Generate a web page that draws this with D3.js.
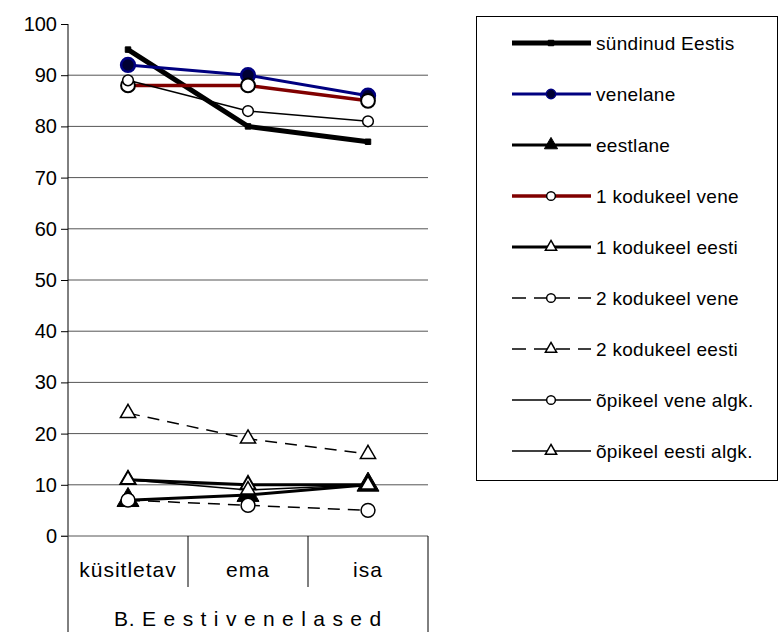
<!DOCTYPE html>
<html><head><meta charset="utf-8">
<script src="https://cdn.jsdelivr.net/npm/d3@7"></script>
<style>
html,body{margin:0;padding:0;background:#fff;}
text{font-family:"Liberation Sans",Arial,sans-serif;fill:#000;}
</style></head>
<body>
<svg id="chart" width="780" height="632"></svg>
<script>
// ---- data ----
const categories = ["küsitletav", "ema", "isa"];
const groupLabel = "B. E e s t i v e n e l a s e d";
const yTicks = [0,10,20,30,40,50,60,70,80,90,100];
const seriesNames = ["sündinud Eestis","venelane","eestlane","1 kodukeel vene","1 kodukeel eesti","2 kodukeel vene","2 kodukeel eesti","õpikeel vene algk.","õpikeel eesti algk."];
const sundinudEestis = [95, 80, 77];
const venelane = [92, 90, 86];
const eestlane = [7, 8, 10];
const kodukeel1Vene = [88, 88, 85];
const kodukeel1Eesti = [11, 10, 10];
const kodukeel2Vene = [7, 6, 5];
const kodukeel2Eesti = [24, 19, 16];
const opikeelVene = [89, 83, 81];
const opikeelEesti = [11, 9, 10];
const seriesValues = [sundinudEestis, venelane, eestlane, kodukeel1Vene, kodukeel1Eesti, kodukeel2Vene, kodukeel2Eesti, opikeelVene, opikeelEesti];

// ---- styles ----
const styles = [
  {stroke:"#000", w:5, dash:null, sym:d3.symbolSquare, size:30, lsize:30, fill:"#000", mstroke:"#000", mw:1},
  {stroke:"#000080", w:3, dash:null, sym:d3.symbolCircle, size:150, lsize:70, fill:"#000033", mstroke:"#000080", mw:2.5},
  {stroke:"#000", w:3, dash:null, sym:d3.symbolTriangle, size:210, lsize:75, fill:"#000", mstroke:"#000", mw:1},
  {stroke:"#800000", w:3.5, dash:null, sym:d3.symbolCircle, size:150, lsize:60, fill:"#fff", mstroke:"#000", mw:2},
  {stroke:"#000", w:3, dash:null, sym:d3.symbolTriangle, size:100, lsize:55, fill:"#fff", mstroke:"#000", mw:2},
  {stroke:"#000", w:1.5, dash:"12,8", sym:d3.symbolCircle, size:150, lsize:60, fill:"#fff", mstroke:"#000", mw:1.5},
  {stroke:"#000", w:1.5, dash:"12,8", sym:d3.symbolTriangle, size:100, lsize:55, fill:"#fff", mstroke:"#000", mw:1.5},
  {stroke:"#000", w:1.5, dash:null, sym:d3.symbolCircle, size:90, lsize:60, fill:"#fff", mstroke:"#000", mw:1.5},
  {stroke:"#000", w:1.5, dash:null, sym:d3.symbolTriangle, size:90, lsize:55, fill:"#fff", mstroke:"#000", mw:1.5}
];

const svg = d3.select("#chart");
const pLeft = 68, pRight = 428, pTop = 24, pBottom = 536;
const x = d3.scaleBand().domain(categories).range([pLeft, pRight]);
const y = d3.scaleLinear().domain([0, 100]).range([pBottom, pTop]);

// gridlines
svg.append("g").selectAll("line").data(yTicks.filter(t => t > 0 && t < 100)).join("line")
  .attr("x1", pLeft).attr("x2", pRight).attr("y1", d => y(d)).attr("y2", d => y(d))
  .attr("stroke", "#555").attr("stroke-width", 1);

// y axis
const yAxis = svg.append("g").attr("transform", `translate(${pLeft},0)`)
  .call(d3.axisLeft(y).tickValues(yTicks).tickSize(7).tickPadding(4).tickSizeOuter(0));
yAxis.select(".domain").remove();
yAxis.selectAll(".tick line").attr("stroke", "#000");
yAxis.selectAll(".tick text").attr("font-size", 20).attr("font-family", "Liberation Sans, Arial, sans-serif").attr("fill", "#000");
svg.append("line").attr("x1", pLeft).attr("x2", pLeft).attr("y1", pTop).attr("y2", 632).attr("stroke", "#000");

// x axis table
svg.append("line").attr("x1", pLeft - 7).attr("x2", pRight).attr("y1", pBottom).attr("y2", pBottom).attr("stroke", "#555");
categories.forEach((c, i) => {
  const xr = x(c) + x.bandwidth();
  svg.append("line").attr("x1", xr).attr("x2", xr).attr("y1", pBottom)
    .attr("y2", i < categories.length - 1 ? 587 : 632).attr("stroke", "#000");
});
svg.append("g").selectAll("text").data(categories).join("text")
  .attr("x", d => x(d) + x.bandwidth() / 2).attr("y", 577)
  .attr("text-anchor", "middle").attr("font-size", 21).attr("letter-spacing", 1)
  .text(d => d);
svg.append("text").attr("x", (pLeft + pRight) / 2).attr("y", 626)
  .attr("text-anchor", "middle").attr("font-size", 21).attr("letter-spacing", 0.8)
  .text(groupLabel);

// series
const line = d3.line().x((d, i) => x(categories[i]) + x.bandwidth() / 2).y(d => y(d));
seriesValues.forEach((vals, si) => {
  const s = styles[si];
  const g = svg.append("g");
  g.append("path").attr("d", line(vals)).attr("fill", "none")
    .attr("stroke", s.stroke).attr("stroke-width", s.w)
    .attr("stroke-dasharray", s.dash);
  g.selectAll("path.m").data(vals).join("path").attr("class", "m")
    .attr("d", d3.symbol(s.sym, s.size))
    .attr("transform", (d, i) => `translate(${x(categories[i]) + x.bandwidth() / 2},${y(d)})`)
    .attr("fill", s.fill).attr("stroke", s.mstroke).attr("stroke-width", s.mw);
});

// legend
svg.append("rect").attr("x", 476.5).attr("y", 16.5).attr("width", 301).attr("height", 464)
  .attr("fill", "#fff").attr("stroke", "#000").attr("stroke-width", 1);
const lg = svg.append("g");
seriesNames.forEach((name, i) => {
  const s = styles[i];
  const cy = 43 + 51 * i;
  lg.append("line").attr("x1", 512).attr("x2", 591).attr("y1", cy).attr("y2", cy)
    .attr("stroke", s.stroke).attr("stroke-width", s.w)
    .attr("stroke-dasharray", s.dash ? "14,8" : null);
  lg.append("path").attr("d", d3.symbol(s.sym, s.lsize))
    .attr("transform", `translate(551,${cy})`)
    .attr("fill", s.fill).attr("stroke", s.mstroke).attr("stroke-width", Math.min(s.mw, 1.5));
  lg.append("text").attr("x", 596).attr("y", cy + 7).attr("font-size", 19)
    .attr("letter-spacing", 0.3).text(name);
});
</script>
</body></html>
